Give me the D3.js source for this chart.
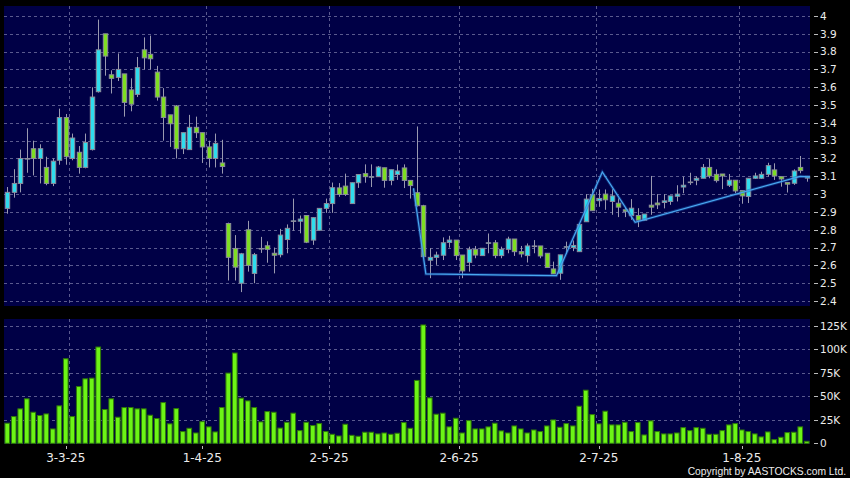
<!DOCTYPE html>
<html><head><meta charset="utf-8">
<script src="https://cdn.jsdelivr.net/npm/d3@7"></script>
<style>html,body{margin:0;padding:0;background:#000;}svg{display:block;}</style>
</head><body>
<svg id="chart" width="850" height="478"></svg>
<script>
// ---- data ----
const openP = [2.92,3.01,3.06,3.20,3.255,3.20,3.15,3.06,3.19,3.43,3.20,3.235,3.15,3.25,3.575,3.90,3.67,3.655,3.675,3.585,3.56,3.81,3.785,3.685,3.545,3.445,3.495,3.255,3.25,3.375,3.345,3.265,3.20,3.175,
2.835,2.695,2.50,2.80,2.555,2.695,2.71,2.668,2.66,2.745,2.85,2.848,2.88,2.742,2.797,2.92,2.947,3.035,3.045,2.947,3.064,3.115,3.098,3.098,3.148,3.077,3.11,3.147,3.077,3.008,
2.935,2.629,2.645,2.657,2.729,2.742,2.658,2.617,2.69,2.655,2.727,2.727,2.655,2.69,2.748,2.677,2.655,2.709,2.709,2.668,2.58,2.556,2.705,2.70,2.677,2.845,2.998,2.963,3.0,2.959,2.949,2.912,2.879,2.88,2.853,2.938,
2.95,2.953,2.959,2.988,3.04,3.068,3.078,3.089,3.15,3.111,3.113,3.05,3.078,3.02,2.987,3.089,3.089,3.111,3.136,3.098,3.065,3.061,3.15,3.09];
const highP = [3.04,3.14,3.25,3.37,3.30,3.28,3.21,3.20,3.48,3.45,3.34,3.27,3.34,3.60,3.98,3.90,3.695,3.79,3.675,3.65,3.77,3.88,3.89,3.72,3.595,3.445,3.50,3.345,3.445,3.435,3.345,3.30,3.34,3.305,
2.84,2.77,2.67,2.85,2.67,2.76,2.735,2.70,2.805,2.83,2.975,2.88,2.88,2.87,2.92,2.975,3.065,3.062,3.115,3.065,3.11,3.167,3.167,3.158,3.148,3.137,3.166,3.167,3.077,3.38,
2.94,2.696,2.677,2.757,2.766,2.742,2.658,2.705,2.709,2.696,2.779,2.742,2.705,2.761,2.748,2.709,2.723,2.742,2.709,2.668,2.621,2.659,2.733,2.74,2.83,3.0,3.03,3.026,3.026,3.028,2.977,2.927,2.972,2.921,2.888,3.102,
3.0,3.0,2.99,3.05,3.098,3.12,3.10,3.169,3.20,3.139,3.113,3.113,3.078,3.02,3.089,3.12,3.126,3.176,3.173,3.098,3.065,3.139,3.214,3.102];
const lowP = [2.89,2.98,3.01,3.12,3.105,3.06,3.05,3.045,3.165,3.165,3.19,3.115,3.145,3.245,3.57,3.665,3.565,3.635,3.435,3.465,3.545,3.70,3.70,3.525,3.30,3.265,3.20,3.225,3.25,3.315,3.175,3.15,3.15,3.115,
2.515,2.515,2.45,2.565,2.50,2.67,2.615,2.555,2.645,2.668,2.795,2.78,2.725,2.715,2.795,2.895,2.895,2.985,2.99,2.947,3.035,3.064,3.04,3.098,3.036,3.05,3.08,3.034,2.975,2.93,
2.645,2.528,2.603,2.63,2.70,2.63,2.528,2.565,2.64,2.655,2.668,2.64,2.64,2.668,2.653,2.645,2.616,2.668,2.64,2.588,2.552,2.519,2.664,2.68,2.677,2.845,2.907,2.929,2.912,2.884,2.871,2.871,2.856,2.815,2.85,2.884,
2.916,2.92,2.94,2.959,3.005,3.052,3.05,3.089,3.089,3.065,3.028,3.04,3.005,2.946,2.95,3.085,3.085,3.098,3.08,3.042,3.009,3.052,3.117,3.07];
const closeP = [3.01,3.06,3.20,3.20,3.20,3.255,3.06,3.185,3.43,3.21,3.315,3.15,3.29,3.545,3.81,3.775,3.65,3.70,3.515,3.505,3.71,3.765,3.76,3.545,3.43,3.395,3.255,3.345,3.375,3.345,3.265,3.20,3.285,3.155,
2.645,2.59,2.665,2.60,2.66,2.695,2.69,2.657,2.77,2.808,2.85,2.86,2.73,2.868,2.92,2.947,3.036,2.998,2.998,3.064,3.11,3.098,3.098,3.152,3.077,3.137,3.13,3.077,3.048,2.935,
2.649,2.645,2.658,2.727,2.742,2.655,2.569,2.69,2.658,2.696,2.727,2.655,2.69,2.748,2.677,2.664,2.709,2.709,2.653,2.588,2.552,2.659,2.705,2.712,2.83,2.972,2.907,2.976,2.968,2.99,2.927,2.903,2.921,2.853,2.888,2.927,
2.94,2.962,2.99,3.0,3.05,3.068,3.089,3.15,3.102,3.076,3.102,3.078,3.018,2.99,3.089,3.102,3.111,3.16,3.102,3.085,3.056,3.13,3.132,3.10];
const volumeK = [21.4,28.5,36.7,47.4,33.1,29.6,31.3,15.3,39.9,90.1,28.5,60.5,68.7,69.4,102.6,36.0,47.4,27.8,38.1,38.1,
36.7,36.7,29.9,26.4,43.4,20.7,37.0,12.5,16.0,11.0,23.1,17.5,12.1,38.1,74.8,96.2,48.1,45.2,38.1,22.8,
33.8,33.1,16.2,22.4,32.1,13.5,22.4,18.9,21.0,12.5,9.6,7.8,20.3,8.5,7.5,11.8,11.8,10.0,11.0,9.6,
10.7,22.1,16.0,67.0,126.1,48.4,31.0,32.1,17.5,26.7,11.0,24.2,15.3,15.3,17.5,21.4,13.2,11.0,18.5,15.3,
11.0,14.2,12.5,18.5,24.9,17.1,21.0,18.5,39.5,56.6,30.6,20.7,34.2,19.6,19.6,22.4,12.5,22.1,8.9,23.9,
12.5,10.0,10.0,11.0,16.7,13.5,16.7,16.0,9.6,9.6,13.5,19.6,21.0,14.2,12.5,10.0,6.8,12.1,3.9,6.4,
11.4,11.8,17.5,2.1];
// pattern line (bar index, price)
const lineIdx = [62.5, 64.4, 84.5, 91.55, 96.6, 122, 123.5];
const linePrice = [3.033, 2.552, 2.542, 3.124, 2.842, 3.10, 3.097];
// axes
const priceTicks = [2.4,2.5,2.6,2.7,2.8,2.9,3.0,3.1,3.2,3.3,3.4,3.5,3.6,3.7,3.8,3.9,4.0];
const volTicks = [0,25,50,75,100,125];
const volTickLabels = ["0","25K","50K","75K","100K","125K"];
const xTickIdx = [9,30,49.5,69.5,91,113];
const xGridIdx = [9.5,30.5,49.5,69.5,90.5,112.5];
const xTickLabels = ["3-3-25","1-4-25","2-5-25","2-6-25","2-7-25","1-8-25"];

// ---- drawing ----
const svg = d3.select("#chart");
const N = closeP.length;
const P = {l:4, r:810, pt:6, pb:306, vt:319, vb:444};
const x = d3.scaleLinear().domain([-0.5, N-0.5]).range([P.l, P.r]);
const step = x(1)-x(0);
const y = d3.scaleLinear().domain([2.4, 4.0]).range([301, 16]);
const yv = d3.scaleLinear().domain([0, 125]).range([443.3, 326]);

svg.append("rect").attr("width",850).attr("height",478).attr("fill","#000");
const panelFill = "#000046";
svg.append("rect").attr("x",P.l).attr("y",P.pt).attr("width",P.r-P.l).attr("height",P.pb-P.pt).attr("fill",panelFill);
svg.append("rect").attr("x",P.l).attr("y",P.vt).attr("width",P.r-P.l).attr("height",P.vb-P.vt).attr("fill",panelFill);

const gridCol = "#5a5a8e";
svg.append("g").selectAll("line").data(priceTicks).join("line")
  .attr("x1",P.l).attr("x2",P.r)
  .attr("y1",d=>Math.round(y(d))+0.5).attr("y2",d=>Math.round(y(d))+0.5)
  .attr("stroke",gridCol).attr("stroke-dasharray","3,3");
svg.append("g").selectAll("line").data(volTicks.slice(1)).join("line")
  .attr("x1",P.l).attr("x2",P.r)
  .attr("y1",d=>Math.round(yv(d))+0.5).attr("y2",d=>Math.round(yv(d))+0.5)
  .attr("stroke",gridCol).attr("stroke-dasharray","3,3");
[[P.pt,P.pb],[P.vt,P.vb]].forEach(([a,b])=>{
  svg.append("g").selectAll("line").data(xGridIdx).join("line")
    .attr("x1",d=>Math.round(x(d))+0.5).attr("x2",d=>Math.round(x(d))+0.5)
    .attr("y1",a).attr("y2",b)
    .attr("stroke",gridCol).attr("stroke-dasharray","3,3");
});

// volume bars
const vw = step*0.87;
svg.append("g").selectAll("rect").data(volumeK).join("rect")
  .attr("x",(d,i)=>x(i)-vw/2+0.5).attr("width",vw-1)
  .attr("y",d=>yv(d)).attr("height",d=>yv(0)-yv(d))
  .attr("fill","#6cf416").attr("stroke","#2f7a08").attr("stroke-width",1);

// candles
const idx = d3.range(N);
const cg = svg.append("g");
cg.selectAll("line").data(idx).join("line")
  .attr("x1",i=>Math.round(x(i))+0.5).attr("x2",i=>Math.round(x(i))+0.5)
  .attr("y1",i=>y(highP[i])).attr("y2",i=>y(lowP[i]))
  .attr("stroke","#9a9ab0").attr("stroke-width",1);
const bw = 4.4;
cg.selectAll("rect").data(idx).join("rect")
  .attr("x",i=>Math.round(x(i))+0.5-bw/2).attr("width",bw)
  .attr("y",i=>y(Math.max(openP[i],closeP[i])))
  .attr("height",i=>Math.max(0.6, Math.abs(y(openP[i])-y(closeP[i]))))
  .attr("fill",i=>closeP[i]>=openP[i] ? "#2fdced" : "#7ede22")
  .attr("stroke","#8c8c9c").attr("stroke-width",1);

// pattern line
const lineData = lineIdx.map((d,i)=>[d, linePrice[i]]);
const lg = d3.line().x(d=>x(d[0])).y(d=>y(d[1]));
svg.append("path").attr("d",lg(lineData)).attr("fill","none")
  .attr("stroke","#1f5fb8").attr("stroke-width",3).attr("stroke-opacity",0.45);
svg.append("path").attr("d",lg(lineData)).attr("fill","none")
  .attr("stroke","#4aa8f0").attr("stroke-width",1.2);

// right axis labels
const txtCol = "#ececec";
const font = "DejaVu Sans, Verdana, sans-serif";
const ra = svg.append("g");
ra.selectAll("line").data(priceTicks).join("line")
  .attr("x1",814).attr("x2",818).attr("y1",d=>Math.round(y(d))+0.5).attr("y2",d=>Math.round(y(d))+0.5)
  .attr("stroke","#bbbbbb");
ra.selectAll("text").data(priceTicks).join("text")
  .attr("x",820).attr("y",d=>y(d)+3.8)
  .attr("fill",txtCol).attr("font-family",font).attr("font-size",10.5)
  .text(d=>d3.format("")(+d.toFixed(1)));
const rv = svg.append("g");
rv.selectAll("line").data(volTicks).join("line")
  .attr("x1",814).attr("x2",818).attr("y1",d=>Math.round(yv(d))+0.5).attr("y2",d=>Math.round(yv(d))+0.5)
  .attr("stroke","#bbbbbb");
rv.selectAll("text").data(volTicks).join("text")
  .attr("x",820).attr("y",d=>yv(d)+3.8)
  .attr("fill",txtCol).attr("font-family",font).attr("font-size",10.5)
  .text((d,i)=>volTickLabels[i]);

// bottom axis
const ba = svg.append("g");
ba.selectAll("line").data(xTickIdx).join("line")
  .attr("x1",d=>Math.round(x(d))+0.5).attr("x2",d=>Math.round(x(d))+0.5)
  .attr("y1",446).attr("y2",449).attr("stroke","#bbbbbb");
ba.selectAll("text").data(xTickIdx).join("text")
  .attr("x",d=>x(d)).attr("y",462)
  .attr("text-anchor","middle").attr("fill",txtCol)
  .attr("font-family",font).attr("font-size",12)
  .text((d,i)=>xTickLabels[i]);

svg.append("text").attr("x",846).attr("y",475).attr("text-anchor","end")
  .attr("fill",txtCol).attr("font-family","Liberation Sans, Arial, sans-serif").attr("font-size",10.3)
  .text("Copyright by AASTOCKS.com Ltd.");
</script>
</body></html>
